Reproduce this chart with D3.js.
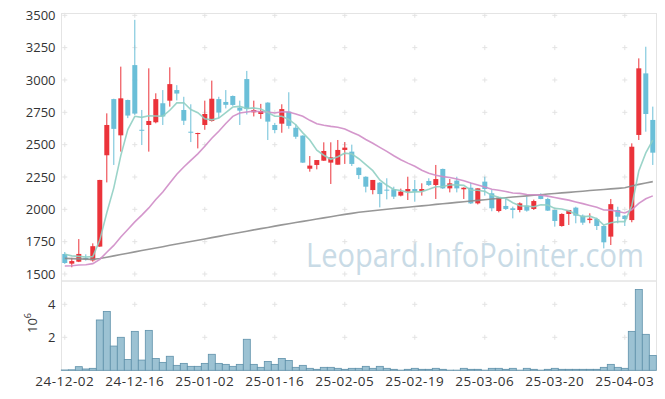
<!DOCTYPE html>
<html>
<head>
<meta charset="utf-8">
<script src="https://cdn.jsdelivr.net/npm/d3@7"></script>
<style>
  body { margin: 0; background: #fff; }
  svg text { font-family: "Open Sans", "Noto Sans", sans-serif; }
</style>
</head>
<body>
<div id="chart"></div>
<script>
// trading days (YY-MM-DD)
const dates = [
  '24-12-02','24-12-03','24-12-04','24-12-05','24-12-06','24-12-09','24-12-10','24-12-11','24-12-12','24-12-13',
  '24-12-16','24-12-17','24-12-18','24-12-19','24-12-20','24-12-23','24-12-24','24-12-26','24-12-27','24-12-30',
  '25-01-02','25-01-03','25-01-06','25-01-07','25-01-08','25-01-09','25-01-10','25-01-13','25-01-14','25-01-15',
  '25-01-16','25-01-17','25-01-20','25-01-21','25-01-22','25-01-23','25-01-24','25-01-31','25-02-03','25-02-04',
  '25-02-05','25-02-06','25-02-07','25-02-10','25-02-11','25-02-12','25-02-13','25-02-14','25-02-17','25-02-18',
  '25-02-19','25-02-20','25-02-21','25-02-24','25-02-25','25-02-26','25-02-27','25-02-28','25-03-04','25-03-05',
  '25-03-06','25-03-07','25-03-10','25-03-11','25-03-12','25-03-13','25-03-14','25-03-17','25-03-18','25-03-19',
  '25-03-20','25-03-21','25-03-24','25-03-25','25-03-26','25-03-27','25-03-28','25-03-31','25-04-01','25-04-02',
  '25-04-03','25-04-04','25-04-07','25-04-08','25-04-09'
];
const tickDates = ['24-12-02','24-12-16','25-01-02','25-01-16','25-02-05','25-02-19','25-03-06','25-03-20','25-04-03'];
const priceTicks = [1500, 1750, 2000, 2250, 2500, 2750, 3000, 3250, 3500];
const volumeTicks = [2e6, 4e6];

const opens = [
  1655,1580,1595,1625,1605,1712,2418,2852,2572,2845,
  3115,2615,2652,2673,2820,2840,2922,2768,2600,2582,
  2652,2683,2852,2830,2876,2786,3007,2750,2737,2825,
  2652,2662,2755,2631,2570,2314,2343,2376,2361,2345,
  2459,2446,2322,2252,2149,2206,2152,2155,2106,2137,
  2157,2142,2219,2188,2312,2162,2222,2155,2167,2046,
  2214,2124,1987,2026,2008,1995,2028,2003,2106,2080,
  1995,1871,1964,2013,1951,1917,1925,1871,1789,1995,
  1951,1917,2575,3051,2691
];
const highs = [
  1670,1625,1770,1652,1737,2228,2742,2855,3103,2848,
  3465,2768,3090,2897,2922,3098,2960,2870,2812,2592,
  2840,2995,2870,2922,2880,2840,3070,2840,2815,2828,
  2668,2812,2905,2657,2572,2412,2381,2518,2518,2536,
  2520,2500,2325,2255,2227,2210,2240,2175,2160,2252,
  2227,2201,2240,2343,2315,2234,2252,2170,2206,2162,
  2252,2149,2090,2085,2021,2054,2098,2075,2124,2090,
  1997,1969,1995,2020,1960,1969,1935,1876,2080,2020,
  1955,2510,3167,3257,2794
];
const lows = [
  1578,1552,1592,1603,1595,1710,2208,2343,2446,2705,
  2730,2497,2446,2665,2652,2794,2842,2652,2520,2471,
  2615,2678,2705,2780,2800,2652,2733,2718,2700,2536,
  2588,2592,2623,2545,2358,2291,2309,2374,2196,2345,
  2351,2335,2234,2131,2116,2015,2077,2080,2100,2072,
  2059,2106,2180,2080,2157,2131,2131,2080,2041,2038,
  2106,1985,1977,1995,1930,1977,1982,1995,2078,1987,
  1866,1866,1879,1892,1880,1892,1840,1698,1724,1892,
  1871,1900,2536,2600,2343
];
const closes = [
  1585,1600,1655,1615,1715,2227,2652,2622,2858,2725,
  2740,2608,2683,2852,2718,2968,2895,2685,2595,2590,
  2737,2855,2748,2808,2807,2763,2775,2768,2760,2678,
  2613,2775,2645,2561,2361,2338,2381,2451,2402,2459,
  2477,2351,2265,2175,2227,2118,2147,2098,2137,2157,
  2137,2157,2188,2234,2162,2201,2162,2167,2046,2162,
  2157,2008,2090,2003,1995,2046,1990,2064,2080,1990,
  1910,1964,1995,1951,1897,1928,1871,1745,2040,1943,
  1925,2484,3090,2737,2438
];
const volumes = [
  20000,30000,220000,80000,120000,3050000,3570000,1470000,2000000,660000,
  2360000,620000,2420000,720000,480000,850000,300000,420000,240000,240000,
  420000,970000,420000,360000,240000,360000,1880000,360000,180000,540000,
  360000,720000,600000,180000,300000,120000,60000,180000,180000,120000,
  60000,120000,120000,240000,120000,240000,120000,60000,10000,60000,
  120000,60000,60000,120000,60000,10000,10000,120000,60000,60000,
  10000,120000,120000,60000,120000,10000,120000,60000,10000,60000,
  120000,60000,60000,60000,60000,60000,60000,180000,360000,180000,
  120000,2360000,4900000,2180000,900000
];

// moving averages
const ma5 = [
  1652,1640,1636,1632,1634,1762,1973,2166,2415,2617,
  2719,2711,2723,2722,2720,2766,2823,2824,2772,2747,
  2700,2692,2705,2748,2791,2796,2780,2784,2775,2749,
  2719,2719,2694,2654,2591,2536,2457,2418,2387,2406,
  2434,2428,2391,2345,2299,2227,2186,2153,2145,2131,
  2135,2137,2155,2175,2176,2188,2189,2185,2148,2148,
  2139,2108,2093,2084,2051,2028,2025,2020,2035,2034,
  2007,2002,1988,1962,1943,1947,1928,1878,1896,1905,
  1905,2027,2296,2436,2535
];
const ma20 = [
  1562,1564,1569,1572,1580,1613,1668,1721,1786,1844,
  1903,1955,2011,2076,2134,2204,2271,2327,2379,2429,
  2487,2550,2604,2664,2719,2745,2752,2759,2754,2752,
  2745,2754,2752,2737,2719,2688,2662,2650,2641,2634,
  2621,2596,2572,2540,2511,2479,2448,2414,2383,2357,
  2333,2302,2279,2263,2253,2246,2235,2221,2203,2188,
  2172,2155,2147,2138,2126,2123,2115,2113,2110,2102,
  2091,2081,2071,2057,2044,2030,2016,1995,1994,1983,
  1972,1996,2046,2082,2104
];
const ma120 = [
  1621,1619,1617,1615,1613,1620,1630,1640,1651,1661,
  1671,1681,1691,1701,1711,1722,1732,1742,1751,1761,
  1771,1781,1791,1801,1811,1821,1831,1841,1851,1860,
  1870,1880,1889,1898,1907,1916,1925,1934,1943,1952,
  1961,1969,1977,1983,1989,1995,2000,2006,2011,2016,
  2022,2027,2032,2038,2043,2048,2054,2059,2064,2069,
  2074,2080,2085,2090,2095,2099,2104,2109,2113,2118,
  2122,2127,2131,2136,2140,2145,2149,2153,2158,2162,
  2167,2180,2193,2204,2214
];

const data = dates.map((d, i) => ({
  date: d, open: opens[i], high: highs[i], low: lows[i], close: closes[i], volume: volumes[i]
}));

// dimensions of the two panels
const width = 665, height = 399;
const left = 61.5, right = 656.5;
const priceTop = 13.5, priceBottom = 281, volBottom = 370.5;
const font = '"Open Sans", "Noto Sans", sans-serif';

const svg = d3.select('#chart')
  .append('svg')
  .attr('width', width)
  .attr('height', height);

// scales
const x = d3.scaleBand()
  .domain(dates)
  .range([61.3, 656.3])
  .padding(0);
const cx = d => x(d) + x.bandwidth() / 2;

const y = d3.scaleLinear()
  .domain([1500, 3500])
  .range([274, 15.3]);

const yVol = d3.scaleLinear()
  .domain([0, 4e6])
  .range([370.3, 304.3]);

// watermark, squeezed horizontally to the width it has in the picture
const mark = svg.append('text')
  .attr('font-size', 32)
  .attr('fill', '#c9dbe6')
  .text('Leopard.InfoPointer.com');
const markWidth = mark.node().getComputedTextLength();
mark.attr('transform', `translate(306,267) scale(${338 / markWidth},1)`);

// grid crosses
const crossXs = tickDates.map(cx);
const crossYs = priceTicks.map(y).concat(volumeTicks.map(yVol));
const crosses = [];
crossXs.forEach(cxv => crossYs.forEach(cyv => crosses.push([cxv, cyv])));
svg.append('g')
  .selectAll('path')
  .data(crosses)
  .enter()
  .append('path')
  .attr('d', d => `M${d[0] - 2.5},${d[1]}H${d[0] + 2.5}M${d[0]},${d[1] - 2.5}V${d[1] + 2.5}`)
  .attr('stroke', '#e3e3e3')
  .attr('stroke-width', 1);

// panel frames
svg.append('rect')
  .attr('x', left).attr('y', priceTop)
  .attr('width', right - left).attr('height', priceBottom - priceTop)
  .attr('fill', 'none').attr('stroke', '#e4e4e4');
svg.append('rect')
  .attr('x', left).attr('y', priceBottom)
  .attr('width', right - left).attr('height', volBottom - priceBottom)
  .attr('fill', 'none').attr('stroke', '#e4e4e4');

// volume bars
svg.append('g')
  .selectAll('rect')
  .data(data)
  .enter()
  .append('rect')
  .attr('x', d => x(d.date))
  .attr('y', d => yVol(d.volume))
  .attr('width', x.bandwidth())
  .attr('height', d => yVol(0) - yVol(d.volume))
  .attr('fill', '#9cc2d3')
  .attr('stroke', '#5f91aa')
  .attr('stroke-width', 0.8);

// candles
const up = '#eb333a', down = '#6bbfd8';
const candles = svg.append('g')
  .selectAll('g')
  .data(data)
  .enter()
  .append('g');

candles.append('line')
  .attr('x1', d => cx(d.date))
  .attr('x2', d => cx(d.date))
  .attr('y1', d => y(d.high))
  .attr('y2', d => y(d.low))
  .attr('stroke', d => d.close >= d.open ? up : down)
  .attr('stroke-width', 1);

candles.append('rect')
  .attr('x', d => cx(d.date) - 2.5)
  .attr('y', d => y(Math.max(d.open, d.close)))
  .attr('width', 5)
  .attr('height', d => Math.max(1, Math.abs(y(d.open) - y(d.close))))
  .attr('fill', d => d.close >= d.open ? up : down);

// moving average lines
const line = d3.line()
  .x((d, i) => cx(dates[i]))
  .y(d => y(d));

[[ma120, '#8c8c8c'], [ma20, '#cf8cc6'], [ma5, '#90cfc3']].forEach(([series, color]) => {
  svg.append('path')
    .datum(series)
    .attr('fill', 'none')
    .attr('stroke', color)
    .attr('stroke-width', 1.6)
    .attr('stroke-opacity', 0.9)
    .attr('d', line);
});

// Y axis (price)
svg.append('g')
  .attr('transform', `translate(${left},0)`)
  .call(d3.axisLeft(y).tickValues(priceTicks).tickSize(0).tickPadding(6).tickFormat(d3.format('d')))
  .call(g => g.select('.domain').remove())
  .selectAll('text')
  .attr('font-size', 13)
  .attr('fill', '#333')
  .style('font-family', font);

// Y axis (volume)
svg.append('g')
  .attr('transform', `translate(${left},0)`)
  .call(d3.axisLeft(yVol).tickValues(volumeTicks).tickSize(0).tickPadding(6).tickFormat(d => d / 1e6))
  .call(g => g.select('.domain').remove())
  .selectAll('text')
  .attr('font-size', 13)
  .attr('fill', '#333')
  .style('font-family', font);

// 10^6 unit label
const unit = svg.append('text')
  .attr('transform', 'translate(37,323) rotate(-90)')
  .attr('text-anchor', 'middle')
  .attr('font-size', 13)
  .attr('fill', '#333');
unit.append('tspan').text('10');
unit.append('tspan').attr('font-size', 9).attr('dy', -6).text('6');

// X axis
svg.append('g')
  .attr('transform', `translate(0,${volBottom})`)
  .call(d3.axisBottom(x).tickValues(tickDates).tickSize(0).tickPadding(6))
  .call(g => g.select('.domain').remove())
  .selectAll('text')
  .attr('font-size', 13.5)
  .attr('letter-spacing', 0.5)
  .attr('fill', '#333')
  .style('font-family', font);
</script>
</body>
</html>
